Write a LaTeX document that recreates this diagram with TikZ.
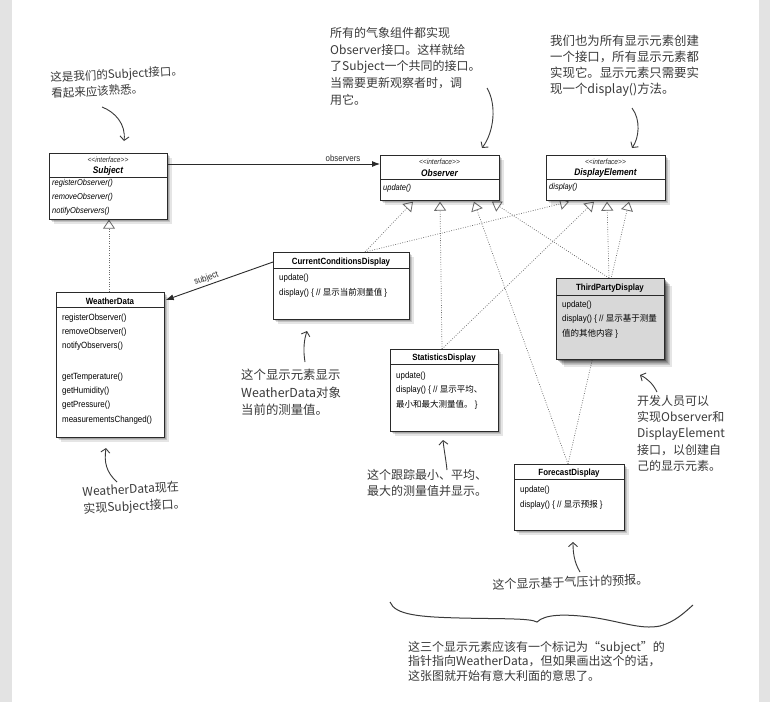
\documentclass[tikz,border=0pt]{standalone}
\usepackage{fontspec}
\setmainfont{Liberation Sans}
\newfontfamily\boxfont[FakeStretch=0.88]{Liberation Sans}
\newfontfamily\cjk{Noto Sans CJK SC}
\usetikzlibrary{arrows.meta,shadows,calc}
\pgfdeclarelayer{paper}
\pgfdeclarelayer{wires}
\pgfsetlayers{paper,wires,main}
\definecolor{pagegray}{HTML}{E3E3E3}
\definecolor{ink}{HTML}{3A3A3A}
\definecolor{boxline}{HTML}{2A2A2A}
\definecolor{tpfill}{HTML}{D8D8D8}
\definecolor{dotline}{HTML}{6A6A6A}
\tikzset{
  softshadow/.style={
    general shadow={fill=black, opacity=0.16, shadow xshift=1.5pt, shadow yshift=-1.5pt},
    general shadow={fill=black, opacity=0.14, shadow xshift=3pt, shadow yshift=-3pt},
    general shadow={fill=black, opacity=0.10, shadow xshift=4.5pt, shadow yshift=-4.5pt}},
  heavyshadow/.style={
    general shadow={fill=black, opacity=0.18, shadow xshift=2pt, shadow yshift=-2pt},
    general shadow={fill=black, opacity=0.16, shadow xshift=4pt, shadow yshift=-4pt},
    general shadow={fill=black, opacity=0.14, shadow xshift=6pt, shadow yshift=-6pt},
    general shadow={fill=black, opacity=0.10, shadow xshift=8pt, shadow yshift=-8pt}},
  umlbox/.style={draw=boxline, line width=0.7pt, fill=white, anchor=north west, inner sep=0pt, softshadow},
  divline/.style={draw=boxline, line width=0.6pt},
  stereo/.style={font=\boxfont\itshape\fontsize{7.5}{8}\selectfont, inner sep=0pt, text=boxline},
  ihead/.style={font=\boxfont\bfseries\itshape\fontsize{9.5}{10}\selectfont, inner sep=0pt},
  chead/.style={font=\boxfont\bfseries\fontsize{9}{10}\selectfont, inner sep=0pt},
  imeth/.style={font=\boxfont\itshape\fontsize{8.5}{10}\selectfont, inner sep=0pt, anchor=west},
  cmeth/.style={font=\boxfont\fontsize{9}{10}\selectfont, inner sep=0pt, anchor=west},
  realize/.style={draw=dotline, line width=0.7pt, dash pattern=on 0.8pt off 1.6pt,
     -{Triangle[open, length=9pt, width=12pt, line width=0.8pt]}},
  assoc/.style={draw=boxline, line width=0.9pt, -{Latex[length=8pt, width=6pt]}},
  lbl/.style={font=\boxfont\fontsize{9}{10}\selectfont, inner sep=0pt, text=boxline},
  note/.style={font=\cjk\fontsize{12}{16}\selectfont, text=ink, align=left, inner sep=0pt, anchor=north west},
  notearrow/.style={draw=ink, line width=0.9pt, -{Straight Barb[length=4pt, width=9pt]}},
}
\begin{document}
\begin{tikzpicture}[x=1pt, y=-1pt]
\begin{pgfonlayer}{paper}
\fill[pagegray] (0,0) rectangle (770,702);
\fill[white] (12,0) rectangle (759,702);
\end{pgfonlayer}
\useasboundingbox (0,0) rectangle (770,702);

% ---------- Subject ----------
\node[umlbox, minimum width=118pt, minimum height=66pt] (subj) at (49,153) {};
\node[stereo] (subjS) at (108,160) {<\kern0pt<interface>\kern0pt>};
\node[ihead] (subjN) at (108,171) {Subject};
\draw[divline] (49,177.5) -- (167,177.5);
\node[imeth] (subjM1) at (52,183.5) {registerObserver()};
\node[imeth] (subjM2) at (52,197.5) {removeObserver()};
\node[imeth] (subjM3) at (52,211.5) {notifyObservers()};

% ---------- Observer ----------
\node[umlbox, minimum width=119pt, minimum height=45pt] (obs) at (380,155) {};
\node[stereo] (obsS) at (439.5,162) {<\kern0pt<interface>\kern0pt>};
\node[ihead] (obsN) at (439.5,173) {Observer};
\draw[divline] (380,179.5) -- (499,179.5);
\node[imeth] (obsM1) at (383,188) {update()};

% ---------- DisplayElement ----------
\node[umlbox, minimum width=119pt, minimum height=45pt] (disp) at (546,155) {};
\node[stereo] (dispS) at (605.5,162) {<\kern0pt<interface>\kern0pt>};
\node[ihead] (dispN) at (605.5,173) {DisplayElement};
\draw[divline] (546,179) -- (665,179);
\node[imeth] (dispM1) at (549,187.5) {display()};

% ---------- CurrentConditionsDisplay ----------
\node[umlbox, minimum width=136pt, minimum height=67pt] (ccd) at (273,252) {};
\node[chead] (ccdN) at (341,262.5) {CurrentConditionsDisplay};
\draw[divline] (273,268) -- (409,268);
\node[cmeth] (ccdM1) at (279,278) {update()};
\node[cmeth] (ccdM2) at (279,293) {display() \{ // {\cjk\fontsize{8.5}{10}\selectfont 显示当前测量值} \}};

% ---------- WeatherData ----------
\node[umlbox, minimum width=108pt, minimum height=145pt] (wd) at (56,292) {};
\node[chead] (wdN) at (110,301) {WeatherData};
\draw[divline] (56,307) -- (164,307);
\node[cmeth] (wdM1) at (62,318) {registerObserver()};
\node[cmeth] (wdM2) at (62,332) {removeObserver()};
\node[cmeth] (wdM3) at (62,346) {notifyObservers()};
\node[cmeth] (wdM4) at (62,377) {getTemperature()};
\node[cmeth] (wdM5) at (62,391) {getHumidity()};
\node[cmeth] (wdM6) at (62,405) {getPressure()};
\node[cmeth] (wdM7) at (62,420) {measurementsChanged()};

% ---------- StatisticsDisplay ----------
\node[umlbox, minimum width=108pt, minimum height=82pt] (stat) at (390,349) {};
\node[chead] (statN) at (444,358) {StatisticsDisplay};
\draw[divline] (390,364.5) -- (498,364.5);
\node[cmeth] (statM1) at (396,376) {update()};
\node[cmeth] (statM2) at (396,389.5) {display() \{ // {\cjk\fontsize{8.5}{10}\selectfont 显示平均、}};
\node[cmeth] (statM3) at (396,405) {{\cjk\fontsize{8.5}{10}\selectfont 最小和最大测量值。} \}};

% ---------- ThirdPartyDisplay ----------
\node[umlbox, fill=tpfill, heavyshadow, minimum width=108pt, minimum height=81pt] (tp) at (556,278) {};
\node[chead] (tpN) at (610,288) {ThirdPartyDisplay};
\draw[divline] (556,295.5) -- (664,295.5);
\node[cmeth] (tpM1) at (562,305) {update()};
\node[cmeth] (tpM2) at (562,319) {display() \{ // {\cjk\fontsize{8.5}{10}\selectfont 显示基于测量}};
\node[cmeth] (tpM3) at (562,334) {{\cjk\fontsize{8.5}{10}\selectfont 值的其他内容} \}};

% ---------- ForecastDisplay ----------
\node[umlbox, minimum width=110pt, minimum height=66pt] (fc) at (514,464) {};
\node[chead] (fcN) at (569,473) {ForecastDisplay};
\draw[divline] (514,479) -- (624,479);
\node[cmeth] (fcM1) at (520,490) {update()};
\node[cmeth] (fcM2) at (520,505) {display() \{ // {\cjk\fontsize{8.5}{10}\selectfont 显示预报} \}};

% ---------- connector end points ----------
\coordinate (ccdTop) at ($(ccd.north west)+(92,0)$);
\coordinate (statTop) at ($(stat.north west)+(52,0)$);
\coordinate (tpTop) at ($(tp.north west)+(53,0)$);
\coordinate (fcTop) at ($(fc.north west)+(54,0)$);
\coordinate (wdTop) at ($(wd.north west)+(53,0)$);
\coordinate (subjBot) at ($(subj.south west)+(60,0)$);
\coordinate (obsT1) at ($(obs.south west)+(33,1)$);
\coordinate (obsT2) at ($(obs.south west)+(60,1)$);
\coordinate (obsT3) at ($(obs.south west)+(94,1)$);
\coordinate (obsT4) at ($(obs.south west)+(112,1)$);
\coordinate (dispT1) at ($(disp.south west)+(23,1)$);
\coordinate (dispT2) at ($(disp.south west)+(48,1)$);
\coordinate (dispT3) at ($(disp.south west)+(61,1)$);
\coordinate (dispT4) at ($(disp.south west)+(83,1)$);

\begin{pgfonlayer}{wires}
\draw[realize] (wdTop) -- (subjBot);
\draw[realize] (ccdTop) -- (obsT1);
\draw[realize] (ccdTop) -- (dispT1);
\draw[realize] (statTop) -- (obsT2);
\draw[realize] (statTop) -- (dispT2);
\draw[realize] (fcTop) -- (obsT3);
\draw[realize] (fcTop) -- (dispT4);
\draw[realize] (tpTop) -- (obsT4);
\draw[realize] (tpTop) -- (dispT3);
\end{pgfonlayer}

% associations
\draw[assoc] ($(subj.north east)+(0,11)$) -- node[lbl, pos=0.826, above=2pt] (obsLbl) {observers} ($(obs.north west)+(0,9)$);
\draw[assoc] ($(ccd.north west)+(0,10)$) -- node[lbl, pos=0.6, above=2pt, sloped] (subjLbl) {subject} ($(wd.north east)+(1,8)$);

% ---------- notes ----------
\node[note, rotate=3, font=\cjk\fontsize{11.5}{16}\selectfont] (n1) at (50,72) {这是我们的Subject接口。\\看起来应该熟悉。};
\node[note, font=\cjk\fontsize{12}{16.7}\selectfont] (n2) at (330,27) {所有的气象组件都实现\\Observer接口。这样就给\\了Subject一个共同的接口。\\当需要更新观察者时，调\\用它。};
\node[note, font=\cjk\fontsize{12.4}{16}\selectfont] (n3) at (550,35) {我们也为所有显示元素创建\\一个接口，所有显示元素都\\实现它。显示元素只需要实\\现一个display()方法。};
\node[note, font=\cjk\fontsize{12.4}{17.5}\selectfont] (n4) at (241,369) {这个显示元素显示\\WeatherData对象\\当前的测量值。};
\node[note, font=\cjk\fontsize{12}{16}\selectfont] (n5) at (367,469) {这个跟踪最小、平均、\\最大的测量值并显示。};
\node[note, font=\cjk\fontsize{12}{16.3}\selectfont] (n6) at (637,395) {开发人员可以\\实现Observer和\\DisplayElement\\接口，以创建自\\己的显示元素。};
\node[note, rotate=3, font=\cjk\fontsize{12}{17}\selectfont] (n7) at (82,486) {WeatherData现在\\实现Subject接口。};
\node[note, rotate=2, font=\cjk\fontsize{12}{16}\selectfont] (n8) at (492,579) {这个显示基于气压计的预报。};
\node[note, font=\cjk\fontsize{12}{14.5}\selectfont] (n9) at (408,641) {这三个显示元素应该有一个标记为“subject”的\\指针指向WeatherData，但如果画出这个的话，\\这张图就开始有意大利面的意思了。};

% note arrows
\coordinate (a1s) at (102,107); \coordinate (a1e) at (124,141);
\coordinate (a2s) at (487,88);  \coordinate (a2e) at (482,148);
\coordinate (a3s) at (632,108); \coordinate (a3e) at (632,148);
\coordinate (a4s) at (305,362); \coordinate (a4e) at (307,331);
\coordinate (a5s) at (447,470); \coordinate (a5e) at (443,440);
\coordinate (a6s) at (657,392); \coordinate (a6e) at (640,375);
\coordinate (a7s) at (117,482); \coordinate (a7e) at (106,448);
\coordinate (a8s) at (580,572); \coordinate (a8e) at (573,542);
\draw[notearrow] (a1s) .. controls (115,112) and (126,124) .. (a1e);
\draw[notearrow] (a2s) .. controls (497,105) and (494,132) .. (a2e);
\draw[notearrow] (a3s) .. controls (641,120) and (639,138) .. (a3e);
\draw[notearrow] (a4s) .. controls (303,350) and (304,340) .. (a4e);
\draw[notearrow] (a5s) .. controls (446,460) and (444,450) .. (a5e);
\draw[notearrow] (a6s) .. controls (653,384) and (648,379) .. (a6e);
\draw[notearrow] (a7s) .. controls (106,472) and (104,462) .. (a7e);
\draw[notearrow] (a8s) .. controls (574,562) and (573,552) .. (a8e);

% brace
\draw[draw=ink, line width=1pt] (390,602) .. controls (395,615) and (420,617) .. (460,618)
  .. controls (500,619) and (530,618) .. (537,622)
  .. controls (545,614) and (565,614) .. (590,617)
  .. controls (620,621) and (640,630) .. (660,626)
  .. controls (675,622) and (685,612) .. (693,605);
\end{tikzpicture}
\end{document}
